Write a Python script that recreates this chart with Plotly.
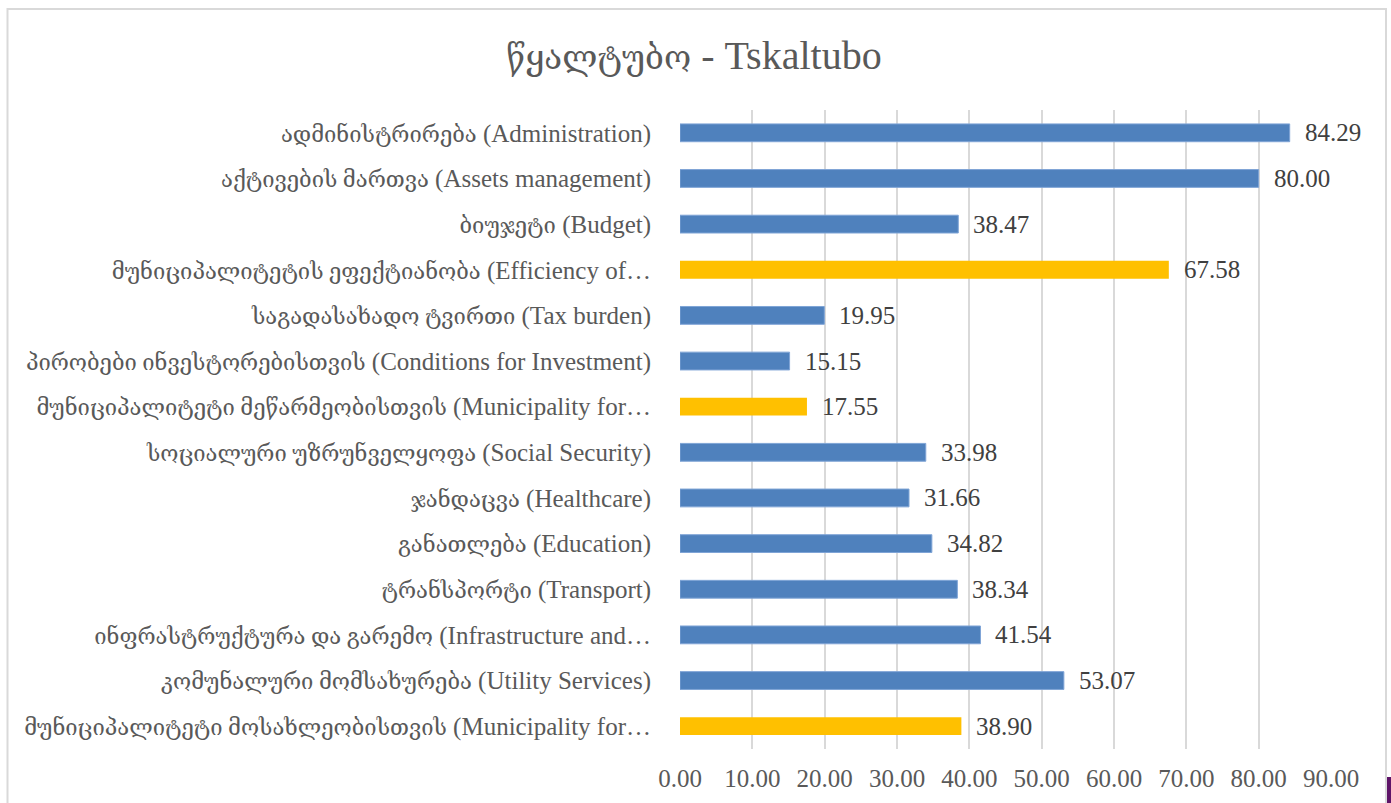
import plotly.graph_objects as go

# Scores per category (top to bottom)
categories = [
    "ადმინისტრირება (Administration)",
    "აქტივების მართვა (Assets management)",
    "ბიუჯეტი (Budget)",
    "მუნიციპალიტეტის ეფექტიანობა (Efficiency of…",
    "საგადასახადო ტვირთი (Tax burden)",
    "პირობები ინვესტორებისთვის (Conditions for Investment)",
    "მუნიციპალიტეტი მეწარმეობისთვის (Municipality for…",
    "სოციალური უზრუნველყოფა (Social Security)",
    "ჯანდაცვა (Healthcare)",
    "განათლება (Education)",
    "ტრანსპორტი (Transport)",
    "ინფრასტრუქტურა და გარემო (Infrastructure and…",
    "კომუნალური მომსახურება (Utility Services)",
    "მუნიციპალიტეტი მოსახლეობისთვის (Municipality for…",
]
values = [84.29, 80.00, 38.47, 67.58, 19.95, 15.15, 17.55,
          33.98, 31.66, 34.82, 38.34, 41.54, 53.07, 38.90]
# Summary (aggregate) categories are highlighted
is_summary = [False, False, False, True, False, False, True,
              False, False, False, False, False, False, True]
x_ticks = [0, 10, 20, 30, 40, 50, 60, 70, 80, 90]
title_ka = "წყალტუბო"
title_en = "- Tskaltubo"

BLUE = "#4F81BD"
GOLD = "#FFC000"
FONT = "Liberation Serif, DejaVu Serif, serif"

W, H = 1391, 803
L, R, T, B = 680, 60, 110, 54

colors = [GOLD if s else BLUE for s in is_summary]
outline = ["rgba(0,0,0,0)" if s else "#7FA4D6" for s in is_summary]


def styled_label(text, ka_size=22):
    # Georgian part set a little smaller than the Latin part
    head, sep, tail = text.partition(" (")
    if not sep:
        return text
    return f'<span style="font-size:{ka_size}px">{head}</span> ({tail}'


fig = go.Figure(go.Bar(
    y=categories,
    x=values,
    orientation="h",
    marker=dict(color=colors, line=dict(color=outline, width=1)),
    width=0.39,
    hoverinfo="x+y",
))

# Value labels placed just past the end of each bar
for c, v in zip(categories, values):
    fig.add_annotation(
        x=v, y=c, xref="x", yref="y",
        text=f"{v:.2f}", showarrow=False,
        xanchor="left", xshift=13,
        font=dict(family=FONT, size=25, color="#404040"),
    )

pw = W - L - R
ph = H - T - B


def px_x(p):
    return (p - L) / pw


def px_y(p):
    return 1 - (p - T) / ph


# Outer chart frame
fig.add_shape(
    type="rect", xref="paper", yref="paper",
    x0=px_x(7.5), x1=px_x(1386), y0=px_y(815), y1=px_y(9),
    line=dict(color="#D9D9D9", width=2), fillcolor="rgba(0,0,0,0)",
    layer="below",
)
# Edge of neighbouring element at lower right
fig.add_shape(
    type="rect", xref="paper", yref="paper",
    x0=px_x(1387), x1=px_x(1392), y0=px_y(805), y1=px_y(777),
    line=dict(width=0), fillcolor="#5E1468",
)

fig.update_layout(
    width=W, height=H,
    margin=dict(l=L, r=R, t=T, b=B, autoexpand=False),
    paper_bgcolor="white",
    plot_bgcolor="white",
    showlegend=False,
    title=dict(
        text=f'<span style="font-size:33px">{title_ka}</span> {title_en}',
        x=(503 + 885) / 2 / W, xanchor="center",
        y=1 - 55 / H, yanchor="middle",
        font=dict(family=FONT, size=40, color="#595959"),
    ),
    xaxis=dict(
        range=[0, 90],
        tickvals=x_ticks,
        ticktext=[f"{t:.2f}" for t in x_ticks],
        showgrid=True, gridcolor="#D9D9D9", gridwidth=2,
        zeroline=False, showline=False,
        ticks="", ticklabelstandoff=12,
        tickfont=dict(family=FONT, size=25, color="#595959"),
        automargin=False,
        fixedrange=True,
    ),
    yaxis=dict(
        autorange="reversed",
        tickmode="array",
        tickvals=categories,
        ticktext=[styled_label(c) for c in categories],
        showgrid=False, zeroline=False, showline=False,
        ticks="", ticklabelstandoff=28,
        tickfont=dict(family=FONT, size=25, color="#595959"),
        automargin=False,
        fixedrange=True,
    ),
)

fig.write_html("out.html")
